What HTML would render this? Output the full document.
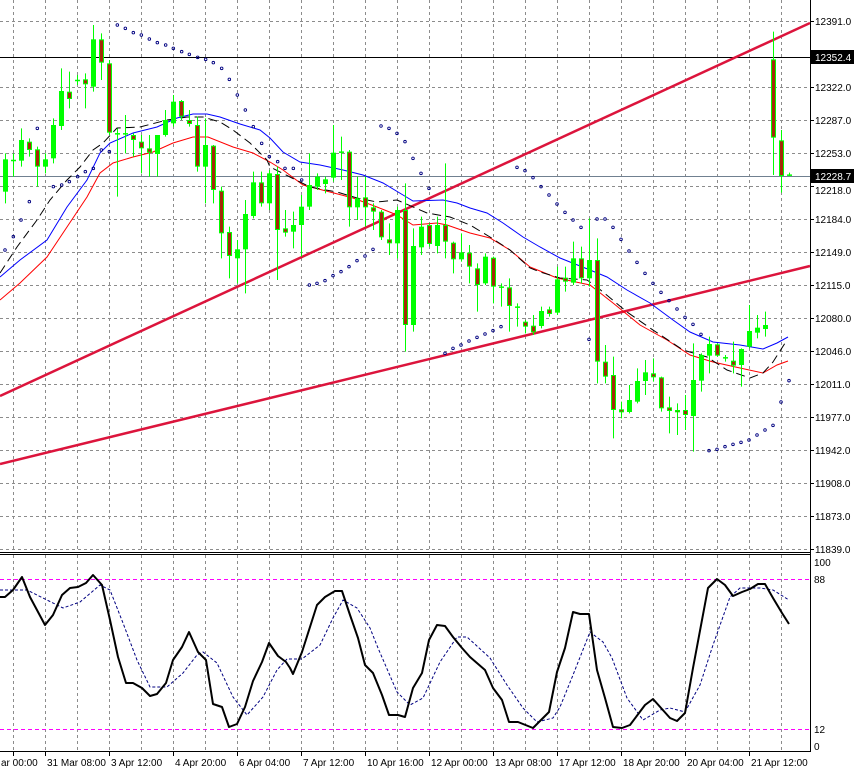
<!DOCTYPE html>
<html><head><meta charset="utf-8"><style>
html,body{margin:0;padding:0;background:#fff;}
svg{display:block;font-family:"Liberation Sans",sans-serif;}
</style></head><body>
<svg id="s" width="854" height="776" xmlns="http://www.w3.org/2000/svg"></svg>
<script>
var S=document.getElementById('s'),h='';
function L(x1,y1,x2,y2,st){h+='<line x1="'+x1+'" y1="'+y1+'" x2="'+x2+'" y2="'+y2+'" style="'+st+'"/>';}
function P(pts,st){h+='<polyline fill="none" points="'+pts.map(function(p){return p[0]+','+p[1]}).join(' ')+'" style="'+st+'"/>';}
function T(x,y,t,extra){h+='<text x="'+x+'" y="'+y+'" font-size="10" '+(extra||'')+'>'+t+'</text>';}
// grid
var gd='stroke:#8c8c8c;stroke-width:1;stroke-dasharray:3,3';
for(var x=13;x<810;x+=32){L(x+.5,0,x+.5,551,gd);L(x+.5,555,x+.5,751,gd);}
var prices=['12391.0','12352.4','12322.0','12287.0','12253.0','12218.0','12184.0','12149.0','12115.0','12080.0','12046.0','12011.0','11977.0','11942.0','11908.0','11873.0','11839.0'];
var ys=[21,54,87,120,153,186,219,252,285,318,351,384,417,450,483,516,549];
for(var i=0;i<ys.length;i++){ if(i!=1) L(0,ys[i]+.5,810,ys[i]+.5,gd); L(810,ys[i]+.5,814,ys[i]+.5,'stroke:#000'); if(i!=1&&i!=5) T(815,ys[i]+4,prices[i]); else if(i==5) T(815,ys[i]+8,prices[i]);}
// horizontal lines
L(0,57.5,810,57.5,'stroke:#000;stroke-width:1');
L(0,176.5,810,176.5,'stroke:#708090;stroke-width:1');
// trend lines
L(0,396,810,23,'stroke:#dc143c;stroke-width:2.5');
L(0,464,810,266,'stroke:#dc143c;stroke-width:2.5');
// MAs
function cv(a,ox,oy){return a.map(function(p){return [ox+p[0]/3,oy+p[1]/3]});}
var blue=[[0,277],[20,260],[47,240],[67,207],[87,180],[100,153],[110,143],[133,133],[157,127],[177,118],[193,114],[207,114],[220,117],[240,124],[260,130],[270,138],[283,152],[300,162],[320,165],[343,170],[363,175],[383,183],[403,195],[413,201],[443,200],[457,203],[470,208],[487,213],[503,223],[523,237],[540,247],[560,258],[590,270],[607,277],[627,290],[650,303],[673,320],[690,332],[713,342],[740,345],[763,349],[777,343],[788,337]];
var red=[[0,300],[20,283],[47,257],[67,227],[87,197],[100,173],[113,163],[133,157],[153,152],[173,143],[193,137],[208,137],[233,147],[253,153],[270,162],[283,170],[303,185],[330,192],[353,198],[377,207],[397,215],[413,225],[437,223],[447,225],[470,233],[490,238],[510,250],[530,267],[540,271],[557,278],[590,285],[613,303],[640,325],[667,340],[690,355],[713,362],[740,368],[763,373],[777,365],[788,361]];
var blk=[[0,273],[17,247],[37,220],[50,200],[67,180],[80,167],[93,150],[103,143],[117,128],[140,127],[167,120],[187,117],[203,117],[220,122],[233,130],[250,143],[267,160],[270,167],[290,177],[310,187],[337,192],[357,198],[377,202],[397,200],[427,213],[450,217],[470,225],[490,237],[510,250],[530,268],[540,272],[560,278],[587,280],[597,287],[627,312],[650,328],[683,350],[707,357],[727,370],[750,378],[763,373],[773,362],[787,340]];
P(blue,'stroke:#0000ff;stroke-width:1');
P(red,'stroke:#ff0000;stroke-width:1');
P(blk,'stroke:#000;stroke-width:1;stroke-dasharray:9,5');
// SAR
var sar=[];
[[15,690],[40,650],[63,600],[88,545],[112,325],[160,500],[185,495],[208,485],[233,470],[256,455],[280,445],[304,390],[328,395],[352,15],[376,25],[400,38],[424,45],[448,57],[472,68],[497,75],[520,85],[545,95],[568,103],[593,112],[617,118],[640,128],[665,145],[688,178],[712,225],[736,270],[760,320],[785,370],[808,410],[833,425]].forEach(function(p){sar.push([p[0]/3,20+p[1]/3])});
[[45,175],[70,175],[95,210],[118,525],[141,520],[165,512],[189,497],[213,485],[237,470],[261,452],[285,438],[309,418],[333,48],[357,55],[381,70],[405,95],[429,145],[453,190],[477,235],[525,730],[549,715],[573,705],[597,693],[621,682],[645,672],[669,662],[693,650],[741,172],[765,182],[789,203],[813,230],[837,255]].forEach(function(p){sar.push([270+p[0]/3,110+p[1]/3])});
[[51,12],[75,37],[99,60],[123,82],[147,418],[171,57],[195,57],[219,82],[243,118],[267,153],[291,187],[315,220],[339,250],[363,277],[387,302],[411,327],[435,352],[459,373],[483,403],[507,752],[531,748],[555,740],[579,733],[603,727],[627,720],[651,705],[675,690],[699,676],[723,606],[747,542]].forEach(function(p){sar.push([540+p[0]/3,200+p[1]/3])});
sar.forEach(function(p){h+='<circle cx="'+p[0]+'" cy="'+p[1]+'" r="1.3" fill="none" stroke="#000080" stroke-width="0.9"/>';});
// candles
var A=[[515,418,400,550],[420,420,400,470],[422,360,325,440],[365,390,355,410],[388,440,380,500],[440,418,400,460],[415,315,295,430],[318,213,145,330],[215,237,155,265],[180,180,165,195],[178,193,160,265],[200,58,15,215],[58,128,40,180],[130,338,120,345],[340,340,325,530],[340,340,285,400],[345,360,340,410],[365,385,345,460],[385,398,345,470],[402,345,345,470],[345,300,270,350],[310,245,225,320],[243,290,240,300],[300,312,270,320],[315,440,290,455],[440,375,295,550],[377,510,375,550],[512,640,500,715],[636,708,620,775],[715,688,660,790],[688,582,540,820],[588,487,455,595],[487,550,455,560],[550,460,450,570],[462,630,440,780]];
var B=[[355,368,300,380],[365,345,305,415],[345,290,255,440],[290,225,130,300],[230,200,190,240],[222,208,200,250],[203,128,45,215],[125,125,80,210],[125,292,120,350],[292,265,200,330],[262,292,200,350],[292,305,280,360],[305,382,300,390],[388,400,340,435],[400,300,290,445],[300,645,220,725],[645,408,355,665],[412,350,320,435],[345,402,340,410],[408,345,320,430],[345,395,160,445],[398,448,395,490],[448,427,370,455],[428,470,405,520],[475,525,460,605],[520,440,430,525],[443,530,440,580],[530,530,520,590],[532,588,505,665],[590,590,580,650],[635,650,630,670],[647,667,615,675],[648,603,590,655],[598,612,590,620]];
var C=[[338,238,200,345],[233,245,200,275],[248,175,125,255],[175,235,140,250],[235,180,55,260],[180,485,115,550],[485,530,435,550],[525,630,470,715],[628,637,605,655],[636,600,555,640],[605,543,505,610],[543,517,480,585],[520,532,475,545],[532,625,530,635],[622,633,590,700],[630,637,610,705],[630,645,585,690],[648,540,430,755],[542,465,460,575],[467,432,410,520],[433,467,430,470],[472,472,465,485],[482,497,425,520],[495,447,445,560],[440,393,315,445],[398,383,345,415],[387,375,335,410]];
var D=[[178,413,95,525],[421,528,390,578],[524,524,518,528]];
var all=[];
A.forEach(function(c){all.push(c.map(function(v){return 20+v/3}))});
B.forEach(function(c){all.push(c.map(function(v){return 110+v/3}))});
C.forEach(function(c){all.push(c.map(function(v){return 200+v/3}))});
D.forEach(function(c){all.push(c.map(function(v){return v/3}))});
all.forEach(function(c,k){
 var x=5+8*k,o=c[0],cl=c[1],hi=c[2],lo=c[3];
 L(x+.5,hi,x+.5,lo,'stroke:#00ff00;stroke-width:1');
 var top=Math.min(o,cl),bot=Math.max(o,cl);
 if(bot-top<1.5){L(x-2,top+.5,x+3,top+.5,'stroke:#00ff00;stroke-width:1.5');}
 else if(cl<o){h+='<rect x="'+(x-2)+'" y="'+top+'" width="5" height="'+(bot-top)+'" fill="#00ff00"/>';}
 else {h+='<rect x="'+(x-1.5)+'" y="'+(top+.5)+'" width="4" height="'+(bot-top-1)+'" fill="#a52a0a" stroke="#00ff00" stroke-width="1"/>';}
});
// price highlight boxes
h+='<rect x="811" y="50" width="43" height="14" fill="#000"/>';T(815,61,'12352.4','fill="#fff"');
h+='<rect x="811" y="169" width="43" height="14" fill="#000"/>';T(815,180,'12228.7','fill="#fff"');
// frame
L(810.5,0,810.5,752,'stroke:#000');
L(0,552.5,810,552.5,'stroke:#000');L(0,554.5,810,554.5,'stroke:#000');
L(0,751.5,811,751.5,'stroke:#000');
// stochastic levels
L(0,579.5,810,579.5,'stroke:#ff00ff;stroke-dasharray:4,3');
L(0,729.5,810,729.5,'stroke:#ff00ff;stroke-dasharray:4,3');
T(814,566,'100');T(814,583,'88');T(814,733,'12');T(814,750,'0');
var sm=[[0,597],[5,597],[13,590],[22,577],[30,597],[45,625],[53,615],[62,595],[70,588],[78,587],[86,583],[93,575],[102,585],[110,620],[118,657],[126,683],[133,683],[142,688],[150,696],[157,694],[166,683],[173,660],[182,647],[189,632],[198,652],[206,660],[213,704],[222,707],[229,727],[237,724],[245,707],[253,681],[262,662],[269,643],[278,656],[286,662],[290,668],[293,674],[302,652],[317,605],[325,597],[335,591],[342,591],[350,615],[358,638],[365,665],[373,673],[382,695],[389,715],[398,715],[405,717],[413,688],[422,673],[429,640],[437,625],[445,626],[453,637],[462,648],[470,657],[485,670],[493,688],[502,700],[509,722],[518,722],[533,728],[549,712],[557,672],[565,648],[573,612],[580,614],[589,614],[597,670],[605,698],[613,727],[622,728],[630,725],[645,705],[653,699],[670,718],[677,721],[685,713],[693,668],[708,588],[717,579],[725,585],[733,596],[742,592],[750,589],[758,584],[765,584],[773,598],[782,613],[789,624]];
var sg=[[0,590],[27,590],[47,600],[63,608],[80,602],[100,585],[110,590],[123,623],[137,660],[150,687],[167,687],[183,673],[197,655],[203,652],[217,663],[233,697],[247,715],[263,697],[277,670],[287,659],[302,659],[320,645],[333,618],[343,600],[357,608],[370,628],[378,648],[397,692],[410,705],[423,698],[440,662],[457,637],[467,637],[490,658],[507,685],[523,708],[537,722],[553,718],[560,707],[573,675],[590,632],[603,642],[612,658],[627,698],[643,720],[660,710],[670,708],[685,712],[700,685],[713,645],[730,597],[740,588],[760,588],[773,590],[789,600]];
P(sg,'stroke:#000080;stroke-width:1;stroke-dasharray:3,2');
P(sm,'stroke:#000;stroke-width:2;stroke-linejoin:round');
// time axis
var tl=[[45,'31 Mar 08:00'],[109,'3 Apr 12:00'],[173,'4 Apr 20:00'],[237,'6 Apr 04:00'],[301,'7 Apr 12:00'],[365,'10 Apr 16:00'],[429,'12 Apr 00:00'],[493,'13 Apr 08:00'],[557,'17 Apr 12:00'],[621,'18 Apr 20:00'],[685,'20 Apr 04:00'],[749,'21 Apr 12:00']];
T(1,766,'ar 00:00');L(13.5,752,13.5,756,'stroke:#000');
tl.forEach(function(t){L(t[0]+.5,752,t[0]+.5,756,'stroke:#000');T(t[0]+2,766,t[1]);});
S.innerHTML=h;
</script>
</body></html>
